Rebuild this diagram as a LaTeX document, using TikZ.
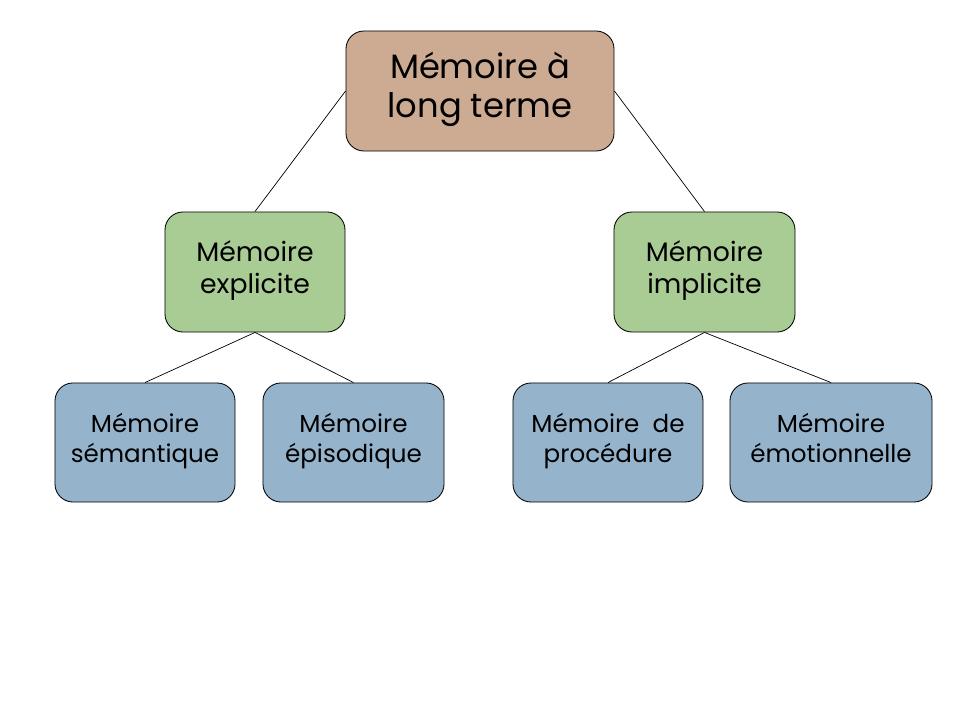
\documentclass[tikz,border=0pt]{standalone}
\usepackage{fontspec}
\setmainfont{Poppins}
\definecolor{tanfill}{HTML}{CCAB92}
\definecolor{greenfill}{HTML}{A8CC94}
\definecolor{bluefill}{HTML}{95B4CC}
\tikzset{
  membox/.style={draw, line width=0.6pt, rounded corners=0.45cm, align=center,
    minimum height=3cm, inner sep=0pt, execute at end node={\strut}},
  topbox/.style={membox, fill=tanfill, minimum width=6.7cm,
    font=\fontsize{24}{28}\selectfont},
  midbox/.style={membox, fill=greenfill, minimum width=4.5cm,
    font=\fontsize{19}{23}\selectfont},
  lowbox/.style={membox, fill=bluefill, minimum width=4.5cm, minimum height=2.975cm,
    font=\fontsize{17.5}{21.5}\selectfont},
  link/.style={line width=0.5pt}
}
\begin{document}
\begin{tikzpicture}[x=0.025cm, y=-0.025cm]
    \useasboundingbox[fill=white] (0,0) rectangle (960,720);
    % Top level
    \node[topbox] (longterme) at (480,91) {Mémoire à\\long terme};

    % Second level
    \node[midbox] (explicite) at (255,272) {Mémoire\\explicite};
    \node[midbox, minimum width=4.525cm] (implicite) at (704.5,272) {Mémoire\\implicite};

    % Third level
    \node[lowbox] (semantique) at (145,442.5) {Mémoire\\sémantique};
    \node[lowbox, minimum width=4.525cm] (episodique) at (353.5,442.5) {Mémoire\\épisodique};
    \node[lowbox, minimum width=4.75cm] (procedure) at (608,442.5) {Mémoire~~de\\procédure};
    \node[lowbox, minimum width=5.05cm] (emotion) at (831,442.5) {Mémoire\\émotionnelle};

    % Links
    \draw[link] (longterme.west) -- (explicite.north);
    \draw[link] (longterme.east) -- (implicite.north);
    \draw[link] (explicite.south) -- (semantique.north);
    \draw[link] (explicite.south) -- (episodique.north);
    \draw[link] (implicite.south) -- (procedure.north);
    \draw[link] (implicite.south) -- (emotion.north);
\end{tikzpicture}
\end{document}
